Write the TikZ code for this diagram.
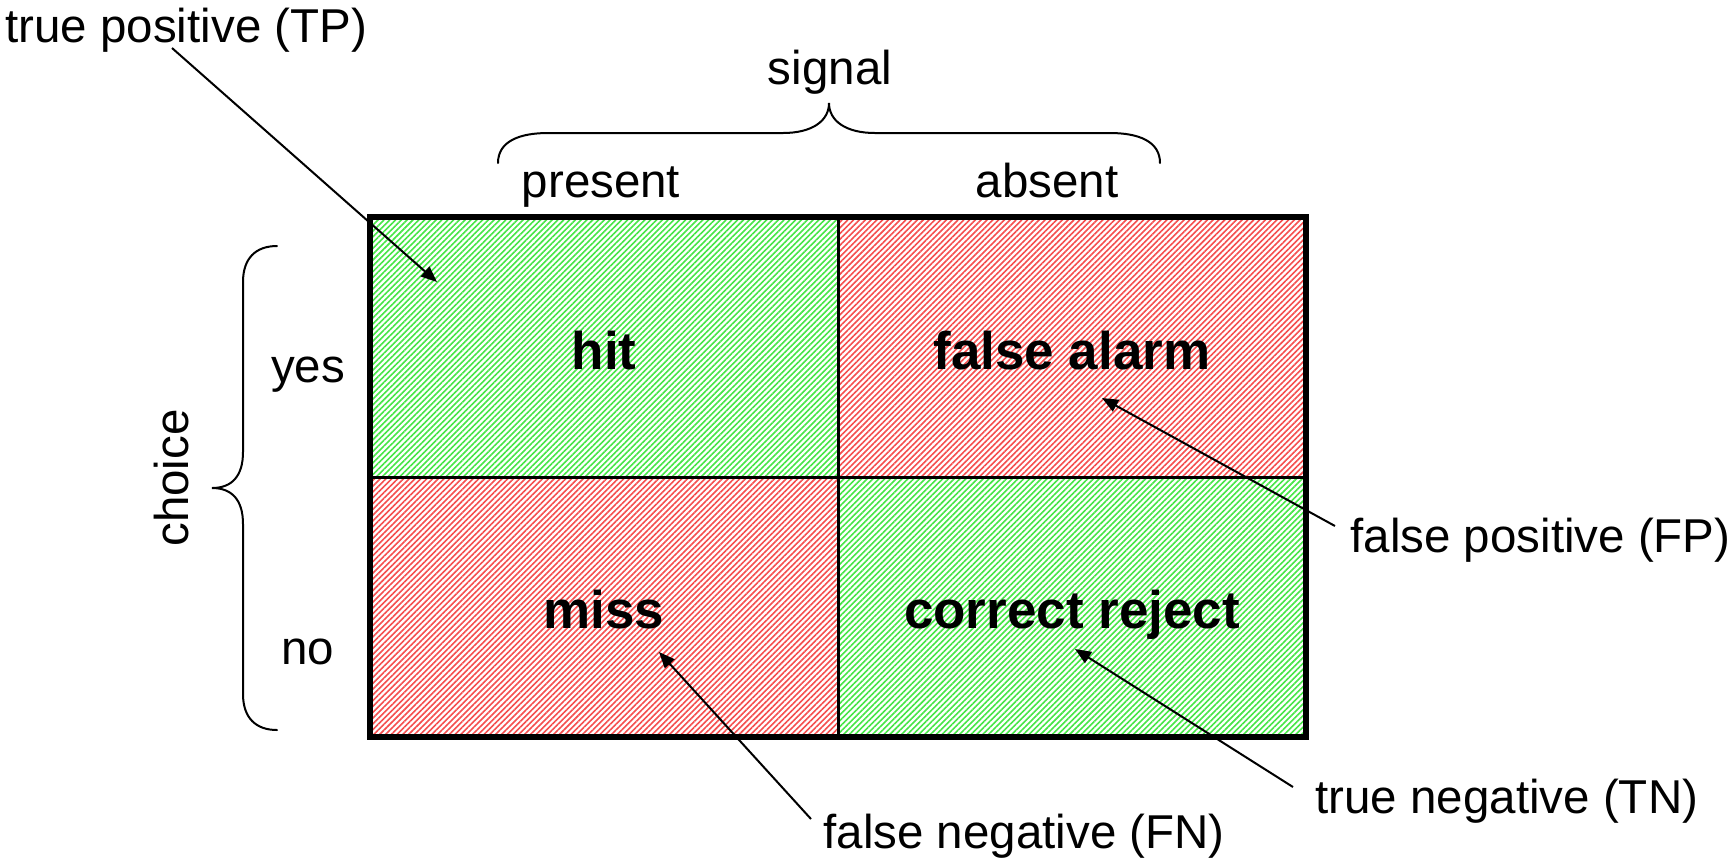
\documentclass[tikz,border=0pt]{standalone}
\usepackage{fontspec}
\setmainfont{Liberation Sans}
\usetikzlibrary{arrows.meta,patterns.meta}

\definecolor{hatchGreen}{RGB}{70,230,70}
\definecolor{hatchRed}{RGB}{245,78,78}

\tikzset{
  cell/.style={rectangle, inner sep=0pt, outer sep=0pt,
    minimum width=234pt, minimum height=130pt,
    draw=black, line width=1.5pt,
    pattern={Lines[angle=45,distance=2.05pt,line width=0.8pt]}},
  goodcell/.style={cell, pattern color=hatchGreen},
  badcell/.style={cell, pattern color=hatchRed},
  frame/.style={line width=2.75pt, line join=miter},
  celltext/.style={anchor=base, inner sep=0pt,
    font=\fontsize{26.5pt}{30pt}\selectfont\bfseries},
  plain/.style={anchor=base, inner sep=0pt,
    font=\fontsize{23.75pt}{28pt}\selectfont},
  sidelabel/.style={plain, anchor=base west},
  bracepath/.style={line width=1pt, line cap=round},
  pointer/.style={line width=1pt, -{Triangle[length=8pt,width=6.5pt]}}
}

\begin{document}
\begin{tikzpicture}[x=0.5pt,y=-0.5pt]
  \useasboundingbox (0,0) rectangle (1736,859);

  % the four outcome cells
  \node[goodcell] (cellTP) at (604,347) {};
  \node[badcell]  (cellFP) at (1072,347) {};
  \node[badcell]  (cellFN) at (604,607) {};
  \node[goodcell] (cellTN) at (1072,607) {};
  \draw[frame] (cellTP.north west) rectangle (cellTN.south east);

  % outcome names
  \node[celltext] (hitText)    at (604,369)  {hit};
  \node[celltext] (faText)     at (1072,369) {false alarm};
  \node[celltext] (missText)   at (604,628)  {miss};
  \node[celltext] (crText)     at (1072,628) {correct reject};

  % column headings and their brace
  \node[plain] (signalText)  at (830,84)  {signal};
  \node[plain] (presentText) at (601,197) {present};
  \node[plain] (absentText)  at (1047,197) {absent};
  \draw[bracepath] (498,163) .. controls (498,141) and (520,133) .. (548,133)
    -- (783,133) .. controls (812,133) and (829,121) .. (829,103)
    .. controls (829,121) and (846,133) .. (875,133)
    -- (1110,133) .. controls (1138,133) and (1160,141) .. (1160,163);

  % row headings and their brace
  \node[plain] (yesText) at (308,382) {yes};
  \node[plain] (noText)  at (308,664) {no};
  \node[plain, anchor=center, rotate=90] (choiceText) at (172,478) {choice};
  \draw[bracepath] (277,246) .. controls (256,246) and (243,258) .. (243,282)
    -- (243,452) .. controls (243,476) and (232,488) .. (212,488)
    .. controls (232,488) and (243,500) .. (243,524)
    -- (243,694) .. controls (243,718) and (256,730) .. (277,730);

  % outcome classes with pointers into the cells
  \node[sidelabel] (tpLabel) at (5,42)     {true positive (TP)};
  \node[sidelabel] (fpLabel) at (1350,552) {false positive (FP)};
  \node[sidelabel] (fnLabel) at (823,848)  {false negative (FN)};
  \node[sidelabel] (tnLabel) at (1315,813) {true negative (TN)};

  \coordinate (tpTip) at (437,282);
  \coordinate (fpTip) at (1102,398);
  \coordinate (fnTip) at (659,652);
  \coordinate (tnTip) at (1075,649);

  \draw[pointer] ([shift={(167,6)}]tpLabel.base west) -- (tpTip);
  \draw[pointer] ([shift={(-15,-26)}]fpLabel.base west) -- (fpTip);
  \draw[pointer] ([shift={(-12,-29)}]fnLabel.base west) -- (fnTip);
  \draw[pointer] ([shift={(-22,-26)}]tnLabel.base west) -- (tnTip);
\end{tikzpicture}
\end{document}
